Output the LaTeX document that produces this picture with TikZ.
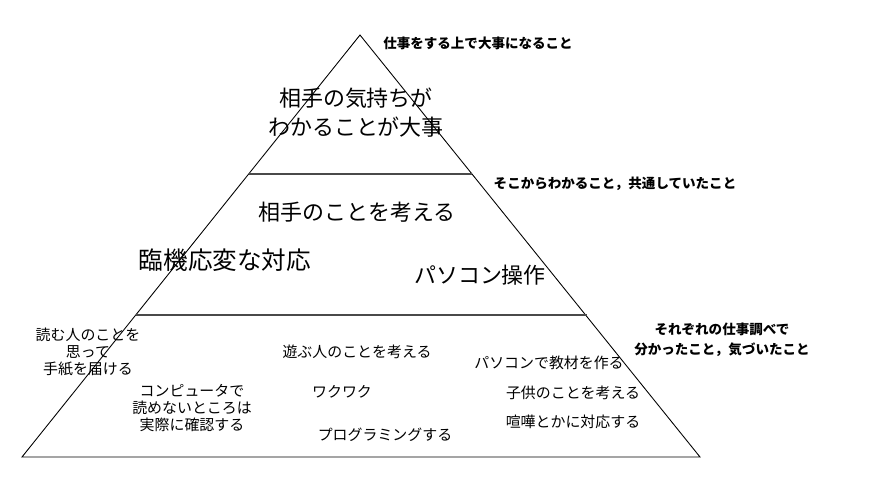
\documentclass[tikz,border=0pt]{standalone}
\usepackage{fontspec}
\usepackage{xcolor}
\usepackage{tikz}
\setmainfont{Noto Sans CJK JP}
\definecolor{ink}{HTML}{000000}
\definecolor{rule}{HTML}{4A4A4A}
\tikzset{
  note/.style={inner sep=0pt, align=center, font=\fontsize{7.7}{11.3}\selectfont\bfseries},
  big/.style={inner sep=0pt, align=center, font=\fontsize{12.5}{16.4}\selectfont},
  small/.style={inner sep=0pt, align=center, font=\fontsize{8.5}{9.6}\selectfont}
}

\begin{document}
\begin{tikzpicture}[x=0.02cm, y=-0.02cm]
  \useasboundingbox (0,0) rectangle (883,497);
  % pyramid
  \draw[ink, line width=0.5pt] (360,35) -- (22,457) -- (700,457) -- cycle;
  \draw[rule, line width=0.7pt] (249,174) -- (472,174);
  \draw[rule, line width=0.7pt] (136,315) -- (587,315);
  % notes on the right
  \node[note] (topnote) at (478,43) {仕事をする上で大事になること};
  \node[note] (midnote) at (615,184) {そこからわかること，共通していたこと};
  \node[note] (lownote) at (722,340) {それぞれの仕事調べで\\分かったこと，気づいたこと};
  % top layer
  \node[big] (feeling) at (356,113) {相手の気持ちが\\わかることが大事};
  % middle layer
  \node[big] (other) at (357,212) {相手のことを考える};
  \node[big, font=\fontsize{14}{16}\selectfont] (flex) at (225,260) {臨機応変な対応};
  \node[big] (pcuse) at (480,275) {パソコン操作};
  % bottom layer
  \node[small] (letter) at (88,352) {読む人のことを\\思って\\手紙を届ける};
  \node[small] (play) at (357,352) {遊ぶ人のことを考える};
  \node[small] (check) at (192,408) {コンピュータで\\読めないところは\\実際に確認する};
  \node[small] (fun) at (342,392) {ワクワク};
  \node[small] (prog) at (385,435) {プログラミングする};
  \node[small] (teach) at (549,363) {パソコンで教材を作る};
  \node[small] (kids) at (573,393) {子供のことを考える};
  \node[small] (fight) at (573,422) {喧嘩とかに対応する};
\end{tikzpicture}
\end{document}
